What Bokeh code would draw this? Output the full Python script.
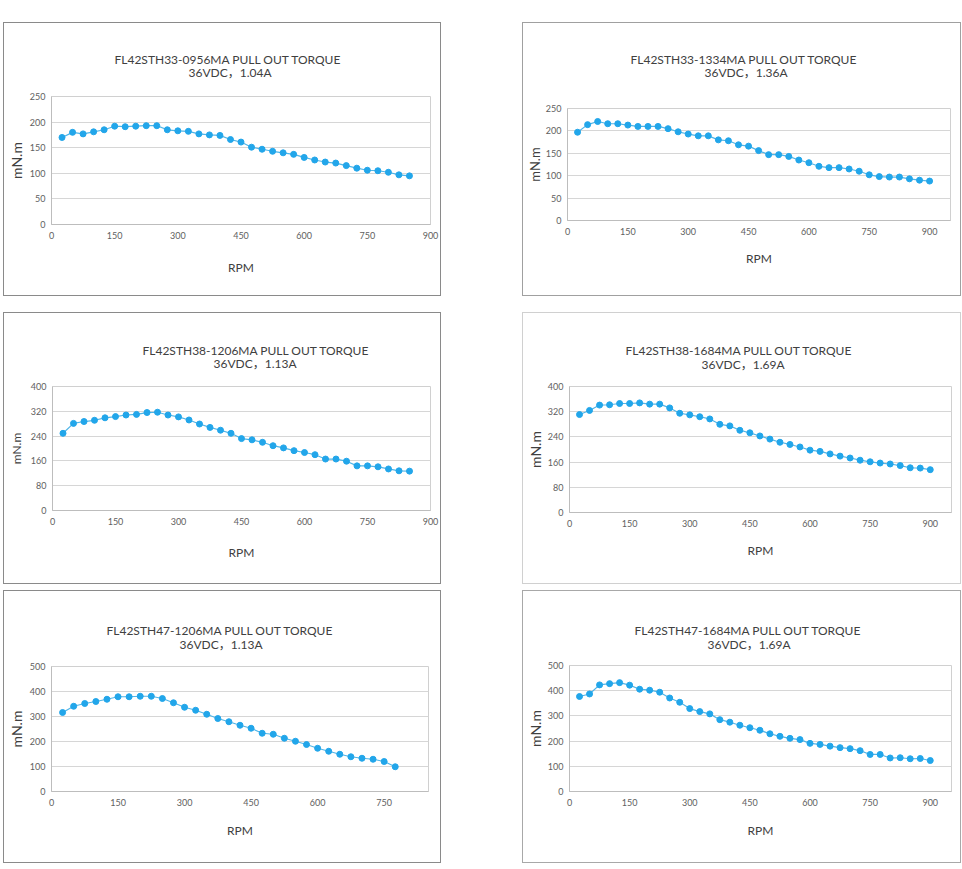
from bokeh.plotting import figure
from bokeh.layouts import column, row
from bokeh.models import Title, FixedTicker, Range1d
from bokeh.embed import file_html
from bokeh.resources import INLINE

# ---------------- data ----------------
rpm_850 = [25, 50, 75, 100, 125, 150, 175, 200, 225, 250, 275, 300, 325, 350, 375, 400, 425,
           450, 475, 500, 525, 550, 575, 600, 625, 650, 675, 700, 725, 750, 775, 800, 825, 850]
rpm_900 = [25, 50, 75, 100, 125, 150, 175, 200, 225, 250, 275, 300, 325, 350, 375, 400, 425,
           450, 475, 500, 525, 550, 575, 600, 625, 650, 675, 700, 725, 750, 775, 800, 825, 850,
           875, 900]
rpm_775 = [25, 50, 75, 100, 125, 150, 175, 200, 225, 250, 275, 300, 325, 350, 375, 400, 425,
           450, 475, 500, 525, 550, 575, 600, 625, 650, 675, 700, 725, 750, 775]

torque_33_0956 = [170, 180, 177, 181, 185, 192, 191, 192, 193, 193, 185, 183, 182, 177, 175, 174, 166,
                  161, 151, 147, 143, 140, 137, 131, 126, 122, 120, 115, 110, 106, 105, 102, 97, 95]
torque_33_1334 = [197, 214, 221, 216, 216, 213, 210, 210, 210, 205, 198, 193, 189, 189, 180, 178, 169,
                  166, 156, 147, 147, 143, 135, 129, 121, 118, 118, 115, 110, 102, 98, 97, 97, 93,
                  90, 88]
torque_38_1206 = [249, 281, 287, 291, 299, 303, 308, 310, 316, 317, 308, 302, 292, 279, 268, 259, 249,
                  232, 228, 220, 209, 202, 193, 187, 180, 166, 166, 159, 144, 144, 141, 134, 128, 127]
torque_38_1684 = [311, 324, 341, 342, 346, 346, 348, 344, 344, 332, 315, 310, 304, 297, 280, 275, 261,
                  253, 243, 233, 223, 216, 208, 198, 194, 186, 179, 173, 166, 161, 157, 154, 149, 142,
                  141, 136]
torque_47_1206 = [316, 341, 352, 360, 369, 379, 379, 381, 381, 372, 355, 337, 325, 309, 292, 279, 265,
                  253, 233, 229, 213, 201, 188, 173, 161, 149, 139, 133, 129, 120, 99]
torque_47_1684 = [377, 387, 423, 428, 432, 422, 406, 402, 394, 371, 354, 329, 317, 308, 285, 275, 263,
                  253, 243, 229, 219, 211, 206, 191, 187, 180, 174, 170, 162, 147, 147, 133, 134, 130,
                  131, 123]

titles = ["FL42STH33-0956MA PULL OUT TORQUE", "FL42STH33-1334MA PULL OUT TORQUE",
          "FL42STH38-1206MA PULL OUT TORQUE", "FL42STH38-1684MA  PULL OUT TORQUE",
          "FL42STH47-1206MA PULL OUT TORQUE", "FL42STH47-1684MA PULL OUT TORQUE"]
subtitles = ["36VDC，1.04A", "36VDC，1.36A", "36VDC，1.13A", "36VDC，1.69A", "36VDC，1.13A", "36VDC，1.69A"]
x_label = "RPM"
y_label = "mN.m"
xticks_900 = [0, 150, 300, 450, 600, 750, 900]
xticks_750 = [0, 150, 300, 450, 600, 750]
yticks_250 = [0, 50, 100, 150, 200, 250]
yticks_400 = [0, 80, 160, 240, 320, 400]
yticks_500 = [0, 100, 200, 300, 400, 500]

FONT = "Lato, 'Noto Sans CJK SC'"
BLUE = "#22a6ea"
LINE_BLUE = "#4fb5e8"
TEXT = "#404040"


def panel(title, subtitle, xs, ys, xmax, xticks, yticks, el, frame, t_start, gap2, gap1,
          rpm_gap, ylab_gap, ylab_size, border_color):
    ex, ey, ew, eh = el            # element box (absolute px)
    fl, fr, ft, fb = frame         # frame edges (absolute px)
    p = figure(width=ew, height=eh, output_backend="svg", toolbar_location=None, title=None,
               x_range=Range1d(0, xmax), y_range=Range1d(0, yticks[-1]),
               min_border_left=fl - ex, min_border_right=ex + ew - fr,
               min_border_top=ft - ey, min_border_bottom=ey + eh - fb,
               background_fill_color="white", border_fill_color="white")
    p.styles = {"outline": f"1px solid {border_color}", "outline-offset": "0px"}
    p.outline_line_color = "#d0d0d0"
    p.xgrid.visible = False
    p.ygrid.grid_line_color = "#d6d6d6"
    p.xaxis.ticker = FixedTicker(ticks=xticks)
    p.yaxis.ticker = FixedTicker(ticks=yticks)
    for ax in (p.xaxis[0], p.yaxis[0]):
        ax.axis_line_color = "#bdbdbd"
        ax.major_tick_line_color = None
        ax.minor_tick_line_color = None
        ax.major_tick_out = 0
        ax.major_tick_in = 0
        ax.minor_tick_out = 0
        ax.minor_tick_in = 0
        ax.major_label_text_font = FONT
        ax.major_label_text_font_size = "9px"
        ax.major_label_text_color = "#606060"
        ax.axis_label_text_font = FONT
        ax.axis_label_text_font_style = "normal"
        ax.axis_label_text_color = TEXT
    p.xaxis.major_label_standoff = 7
    p.yaxis.major_label_standoff = 6
    p.xaxis.axis_label = x_label
    p.xaxis.axis_label_text_font_size = "12px"
    p.xaxis.axis_label_standoff = rpm_gap
    p.yaxis.axis_label = y_label
    p.yaxis.axis_label_text_font_size = ylab_size
    p.yaxis.axis_label_standoff = ylab_gap

    # two heading lines, nearest to the frame first
    p.add_layout(Title(text=subtitle, align="left", offset=t_start[1] - fl, standoff=gap2,
                       text_font=FONT, text_font_size="12px", text_font_style="normal",
                       text_color=TEXT), "above")
    p.add_layout(Title(text=title, align="left", offset=t_start[0] - fl, standoff=gap1,
                       text_font=FONT, text_font_size="12px", text_font_style="normal",
                       text_color=TEXT), "above")

    p.line(xs, ys, line_color=LINE_BLUE, line_width=1.2)
    p.scatter(xs, ys, size=6, fill_color=BLUE, line_color=BLUE)
    return p


p1 = panel(titles[0], subtitles[0], rpm_850, torque_33_0956, 900, xticks_900, yticks_250,
           (4, 23, 436, 272), (50, 430, 96, 224), (113, 187), 33, -40, 18, 2, "14px", "#8a8a8a")
p2 = panel(titles[1], subtitles[1], rpm_900, torque_33_1334, 952, xticks_900, yticks_250,
           (523, 23, 437, 272), (564, 950, 108, 220), (627, 701), 57, -64, 13, 0, "13px", "#a0a0a0")
p3 = panel(titles[2], subtitles[2], rpm_850, torque_38_1206, 900, xticks_900, yticks_400,
           (4, 313, 436, 270), (52, 430, 386, 510), (142, 213), 31, -38, 17, 4, "12px", "#8a8a8a")
p4 = panel(titles[3], subtitles[3], rpm_900, torque_38_1684, 953, xticks_900, yticks_400,
           (523, 313, 437, 270), (567, 951, 386, 512), (623, 699), 29, -34, 13, 1, "14px", "#d0d0d0")
p5 = panel(titles[4], subtitles[4], rpm_775, torque_47_1206, 850, xticks_750, yticks_500,
           (4, 591, 436, 271), (50, 428, 666, 791), (105, 178), 29, -34, 14, 2, "14px", "#8a8a8a")
p6 = panel(titles[5], subtitles[5], rpm_900, torque_47_1684, 953, xticks_900, yticks_500,
           (523, 591, 437, 271), (567, 951, 665, 791), (632, 705), 27, -32, 14, 1, "14px", "#a8a8a8")

p1.margin = (23, 0, 0, 4)
p2.margin = (23, 0, 0, 83)
p3.margin = (18, 0, 0, 4)
p4.margin = (18, 0, 0, 83)
p5.margin = (8, 0, 0, 4)
p6.margin = (8, 0, 0, 83)

layout = column(row(column(p1), column(p2)), row(column(p3), column(p4)), row(column(p5), column(p6)))
open("out.html", "w").write(file_html(layout, INLINE))
